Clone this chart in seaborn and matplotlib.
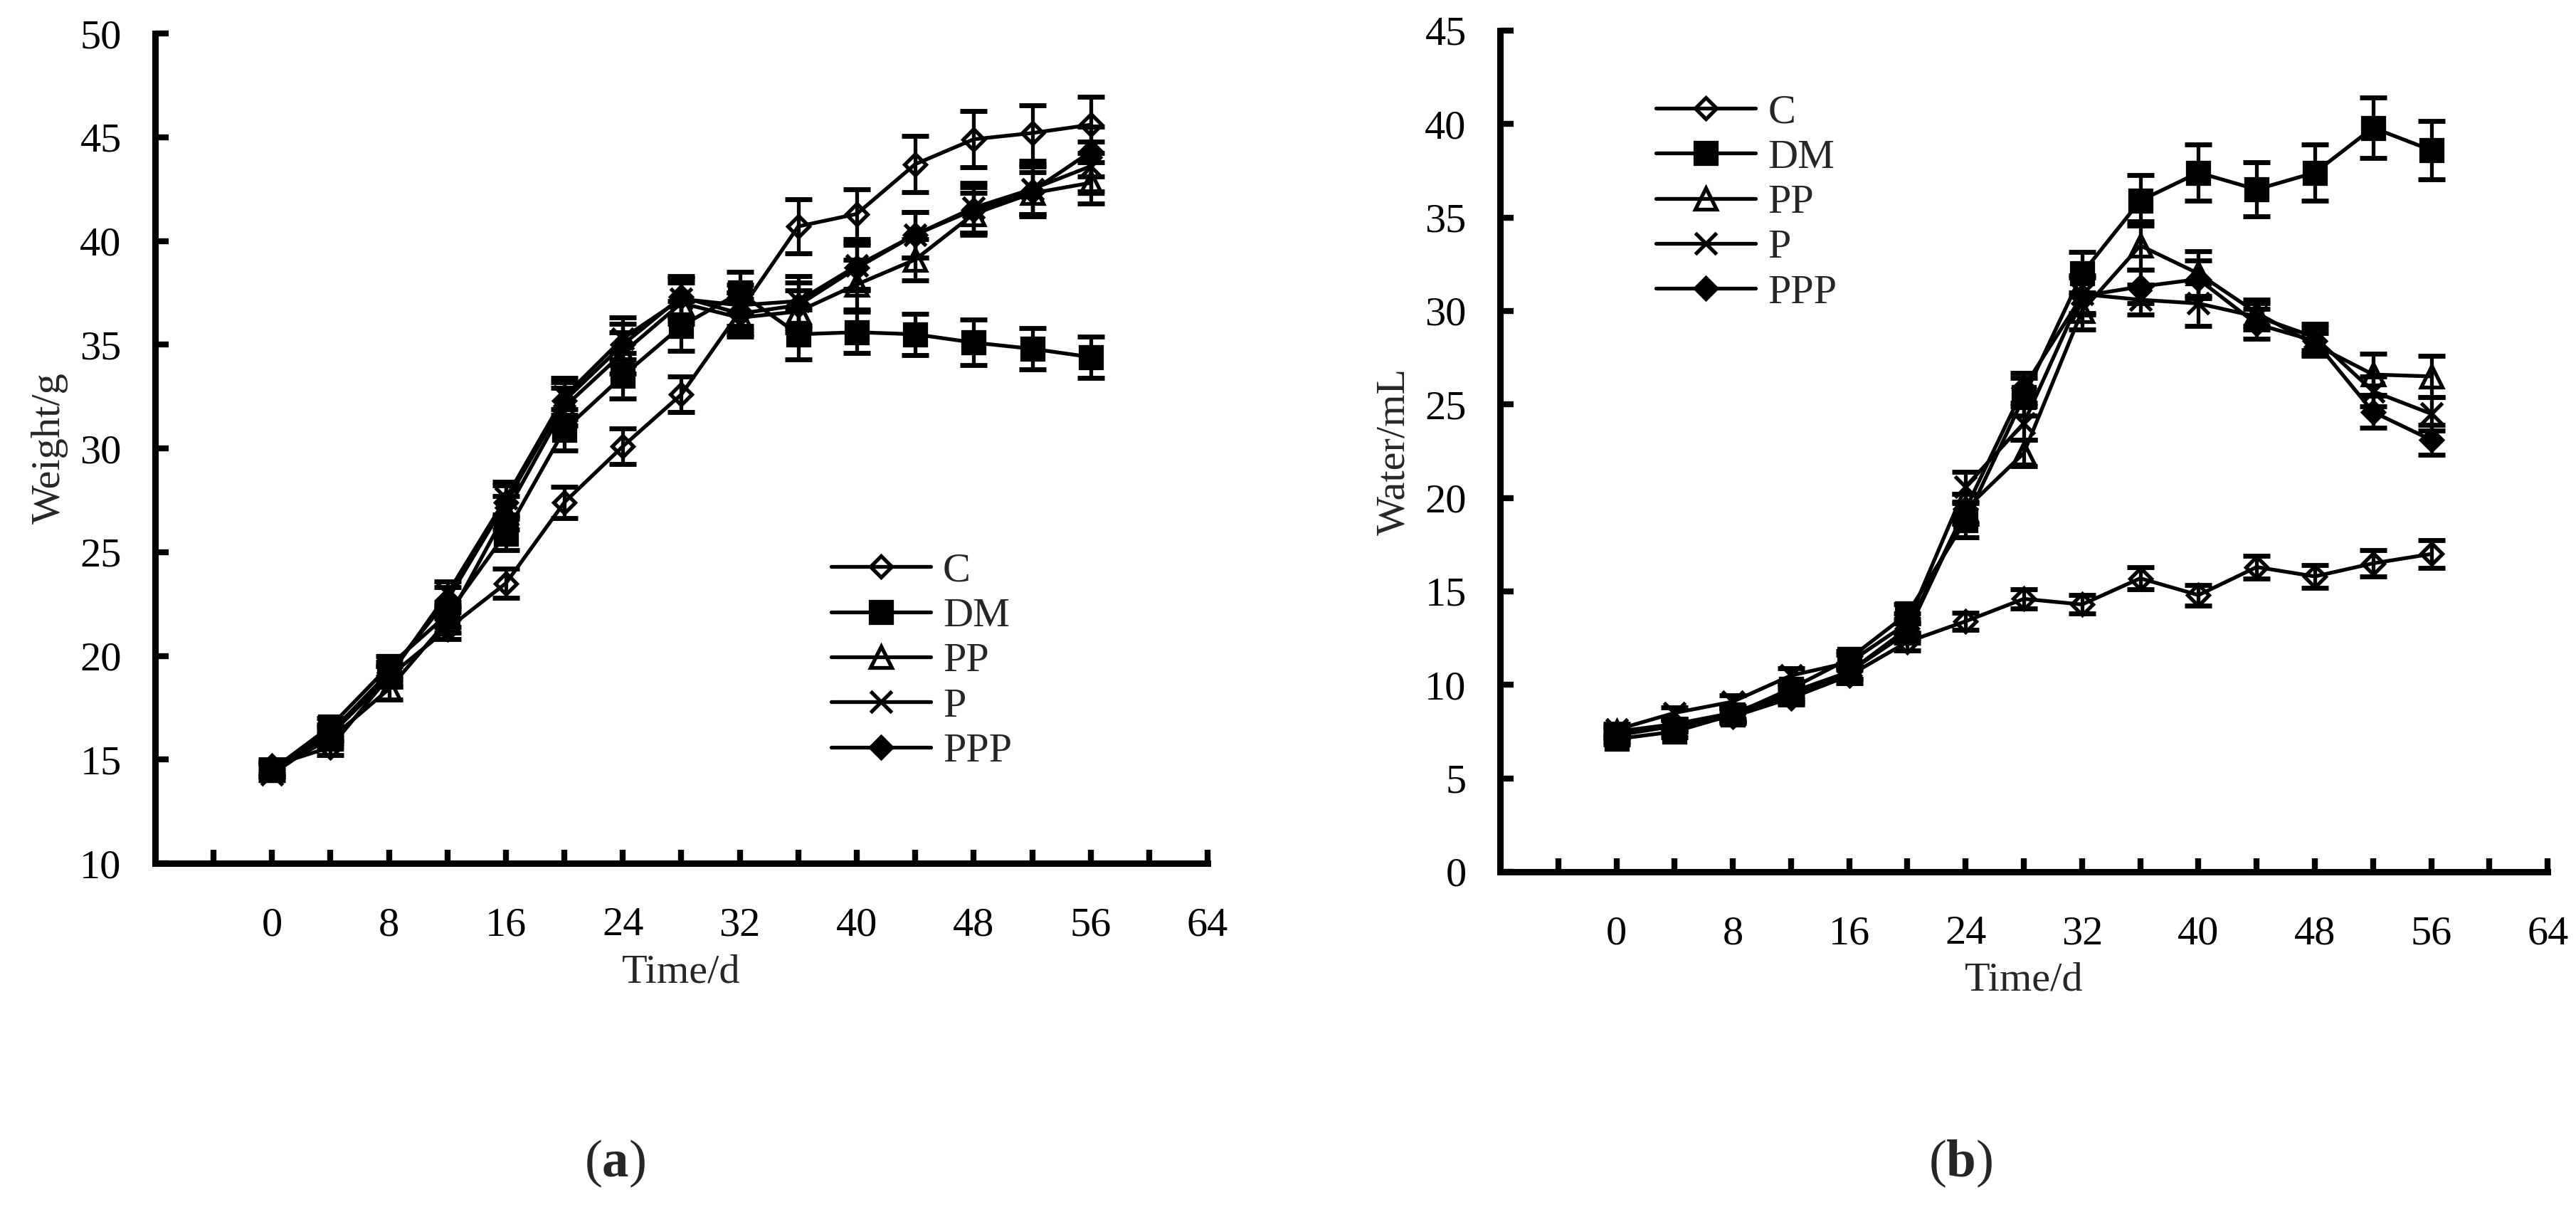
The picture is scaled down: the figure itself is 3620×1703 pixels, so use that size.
import numpy as np
import matplotlib
matplotlib.use("Agg")
import matplotlib.pyplot as plt
import seaborn as sns

#---------------------------------------------------------------------------
# DATA
# time points are every 4 days, 0..56
#---------------------------------------------------------------------------
days = [0, 4, 8, 12, 16, 20, 24, 28, 32, 36, 40, 44, 48, 52, 56]
groups = ["C", "DM", "PP", "P", "PPP"]

# (a) body weight, g
weight_C = [14.7, 15.6, 19.0, 21.3, 23.5, 27.4, 30.1, 32.6, 36.6, 40.7, 41.3, 43.7, 44.9, 45.2, 45.6]
weight_DM = [14.5, 16.6, 19.5, 22.0, 25.9, 30.9, 33.5, 35.9, 37.5, 35.5, 35.6, 35.5, 35.1, 34.8, 34.4]
weight_PP = [14.5, 16.0, 18.4, 21.7, 26.9, 32.0, 34.6, 37.0, 36.3, 36.6, 37.9, 39.1, 41.3, 42.3, 42.8]
weight_P = [14.3, 16.2, 19.0, 23.0, 27.6, 32.5, 35.3, 37.2, 36.9, 37.1, 38.8, 40.3, 41.6, 42.5, 43.6]
weight_PPP = [14.6, 16.3, 19.2, 22.7, 27.4, 32.3, 35.0, 37.3, 36.5, 36.9, 38.7, 40.3, 41.5, 42.4, 44.3]

weight_sd_C = [0.3, 0.4, 0.5, 0.5, 0.7, 0.75, 0.85, 0.85, 0.9, 1.3, 1.2, 1.35, 1.35, 1.35, 1.35]
weight_sd_DM = [0.3, 0.4, 0.5, 0.6, 0.8, 1.0, 1.1, 1.2, 1.0, 1.2, 1.0, 1.0, 1.1, 1.0, 1.0]
weight_sd_PP = [0.3, 0.4, 0.5, 0.6, 0.8, 0.9, 1.0, 1.0, 0.9, 1.0, 1.2, 1.0, 1.0, 1.0, 1.0]
weight_sd_P = [0.3, 0.4, 0.5, 0.6, 0.8, 0.9, 1.0, 1.0, 1.0, 1.2, 1.1, 1.1, 1.2, 1.2, 1.2]
weight_sd_PPP = [0.3, 0.4, 0.5, 0.6, 0.8, 0.9, 1.0, 1.0, 1.0, 1.1, 1.1, 1.1, 1.1, 1.2, 1.2]

# (b) water intake, mL
water_C = [7.3, 7.8, 8.3, 9.3, 10.5, 12.3, 13.4, 14.6, 14.3, 15.7, 14.8, 16.3, 15.8, 16.5, 17.0]
water_DM = [7.1, 7.5, 8.4, 9.8, 11.4, 13.8, 18.8, 25.4, 32.0, 35.9, 37.4, 36.5, 37.4, 39.8, 38.6]
water_PP = [7.5, 7.9, 8.5, 9.6, 10.7, 12.8, 19.4, 22.4, 30.0, 33.5, 32.0, 29.9, 28.2, 26.6, 26.5]
water_P = [7.6, 8.5, 9.1, 10.5, 11.2, 13.3, 20.6, 24.0, 30.9, 30.6, 30.4, 29.7, 28.6, 25.7, 24.5]
water_PPP = [7.4, 7.8, 8.4, 9.5, 10.7, 13.0, 19.4, 25.9, 30.8, 31.3, 31.7, 29.3, 28.4, 24.6, 23.1]

water_sd_C = [0.3, 0.3, 0.3, 0.35, 0.4, 0.45, 0.45, 0.5, 0.5, 0.6, 0.55, 0.6, 0.6, 0.7, 0.75]
water_sd_DM = [0.3, 0.3, 0.35, 0.4, 0.4, 0.5, 0.9, 1.0, 1.15, 1.35, 1.5, 1.45, 1.5, 1.6, 1.55]
water_sd_PP = [0.3, 0.3, 0.35, 0.4, 0.4, 0.5, 0.8, 0.7, 1.0, 1.3, 1.2, 0.7, 0.6, 1.1, 1.1]
water_sd_P = [0.3, 0.3, 0.35, 0.4, 0.4, 0.5, 0.8, 0.9, 1.0, 0.8, 1.2, 0.7, 0.7, 0.8, 0.9]
water_sd_PPP = [0.3, 0.3, 0.35, 0.4, 0.4, 0.5, 0.8, 0.8, 1.0, 0.9, 1.0, 0.8, 0.7, 0.85, 0.8]

x_ticks = [0, 8, 16, 24, 32, 40, 48, 56, 64]

# marker, markersize, filled
STYLE = {
    "C": ("D", 15, False),
    "DM": ("s", 21, True),
    "PP": ("^", 21, False),
    "P": ("x", 21, True),
    "PPP": ("D", 15, True),
}

FS = 42
LW = 3.8


def draw_panel(ax, means, sds, ylim, ylabel, legend_anchor):
    for g in groups:
        marker, ms, filled = STYLE[g]
        sns.lineplot(x=days, y=means[g], ax=ax, color="black", lw=LW,
                     marker=marker, markersize=ms,
                     markerfacecolor="black" if filled else "none",
                     markeredgecolor="black", markeredgewidth=LW,
                     label=g, zorder=3)
        ax.errorbar(days, means[g], yerr=sds[g], fmt="none", ecolor="black",
                    elinewidth=LW, capsize=14, capthick=LW * 1.3, zorder=4)

    ax.set_xlim(-8, 64)
    ax.set_ylim(*ylim)
    ax.set_xticks(x_ticks)
    ax.set_xticks(np.arange(-4, 64, 4), minor=True)
    ax.set_yticks(np.arange(ylim[0], ylim[1] + 1, 5))
    ax.tick_params(axis="both", which="both", direction="in", length=14,
                   width=6, labelsize=FS, colors="black")
    ax.tick_params(axis="x", which="both", pad=44)
    ax.tick_params(axis="y", pad=34)
    ax.tick_params(axis="x", which="minor", labelbottom=False)

    for side in ["top", "right"]:
        ax.spines[side].set_visible(False)
    for side in ["left", "bottom"]:
        ax.spines[side].set_linewidth(6.5)
        ax.spines[side].set_color("black")

    ax.set_xlabel("Time/d", fontsize=FS, labelpad=10)
    ax.set_ylabel(ylabel, fontsize=FS, labelpad=12)

    ax.legend(loc="upper left", bbox_to_anchor=legend_anchor, frameon=False,
              fontsize=FS, handlelength=2.4, handletextpad=0.3,
              labelspacing=0.18, borderpad=0, borderaxespad=0)


def main():
    sns.set_style("ticks")
    plt.rcParams["font.family"] = ["Liberation Serif", "DejaVu Serif"]
    plt.rcParams["mathtext.fontset"] = "custom"
    plt.rcParams["mathtext.rm"] = "Liberation Serif"
    plt.rcParams["mathtext.bf"] = "Liberation Serif:bold"

    fig = plt.figure(figsize=(36.2, 17.03), dpi=100)
    ax_a = fig.add_axes([0.0602, 0.2877, 0.4086, 0.6847])
    ax_b = fig.add_axes([0.5823, 0.2807, 0.4067, 0.6941])

    #---------------------------------------------------------------------------
    # (a) WEIGHT
    #---------------------------------------------------------------------------
    w_means = {"C": weight_C, "DM": weight_DM, "PP": weight_PP,
               "P": weight_P, "PPP": weight_PPP}
    w_sds = {"C": weight_sd_C, "DM": weight_sd_DM, "PP": weight_sd_PP,
             "P": weight_sd_P, "PPP": weight_sd_PPP}
    draw_panel(ax_a, w_means, w_sds, (10, 50), "Weight/g", (0.642, 0.375))

    #---------------------------------------------------------------------------
    # (b) WATER
    #---------------------------------------------------------------------------
    v_means = {"C": water_C, "DM": water_DM, "PP": water_PP,
               "P": water_P, "PPP": water_PPP}
    v_sds = {"C": water_sd_C, "DM": water_sd_DM, "PP": water_sd_PP,
             "P": water_sd_P, "PPP": water_sd_PPP}
    draw_panel(ax_b, v_means, v_sds, (0, 45), "Water/mL", (0.149, 0.925))

    fig.text(864 / 3620, 1 - 1635 / 1703, r"($\mathbf{a}$)", fontsize=54,
             ha="center", va="center")
    fig.text(2755 / 3620, 1 - 1635 / 1703, r"($\mathbf{b}$)", fontsize=54,
             ha="center", va="center")

    fig.savefig("out.png", dpi=100, facecolor="white")
    plt.close(fig)


if __name__ == "__main__":
    main()
